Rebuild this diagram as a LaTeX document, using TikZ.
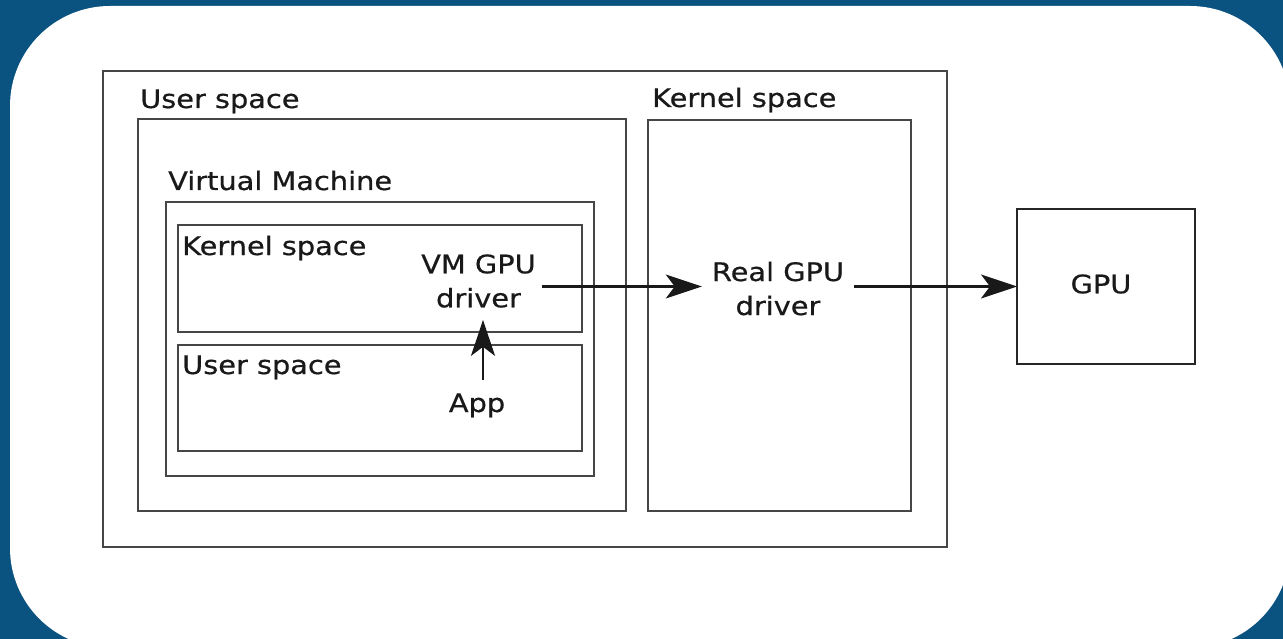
\documentclass[tikz,border=0pt]{standalone}
\usepackage{fontspec}
\setmainfont{DejaVu Sans}[FakeStretch=1.13,FakeBold=0.6]
\usetikzlibrary{arrows.meta}
\definecolor{bgblue}{RGB}{10,82,128}
\definecolor{linegray}{RGB}{70,70,70}
\definecolor{txt}{RGB}{25,25,25}
\begin{document}
\begin{tikzpicture}[x=1pt,y=-1pt,
  box/.style={draw=linegray, line width=2.4pt, inner sep=0pt, outer sep=0pt, minimum width=#1},
  lbl/.style={anchor=base west, inner sep=0pt, text=txt, font=\fontsize{25.5}{34}\selectfont},
  ctr/.style={text=txt, font=\fontsize{25.5}{34}\selectfont, align=center},
  arr/.style={draw=black!90, line width=2.2pt, -{Stealth[length=36pt,width=24pt,inset=9pt]}}]
\useasboundingbox (0,0) rectangle (1283,639);
\clip (0,0) rectangle (1283,639);
\fill[bgblue] (0,0) rectangle (1283,639);
\fill[white, rounded corners=100pt] (10,6) rectangle (1290,648);
% boxes
\node[box=844pt, minimum height=476pt] (outer) at (525,309) {};
\node[box=488pt, minimum height=392pt] (userbox) at (382,315) {};
\node[box=428pt, minimum height=274pt] (vmbox) at (380,339) {};
\node[box=404pt, minimum height=107pt] (kinner) at (380,278.5) {};
\node[box=404pt, minimum height=106pt] (uinner) at (380,398) {};
\node[box=263pt, minimum height=391pt] (kbox) at (779.5,315.5) {};
\node[box=178pt, minimum height=155pt, draw=black!85] (gpu) at (1106,286.5) {};
% labels
\node[lbl] (luser) at (140,108) {User space};
\node[lbl] (lvm) at (168,190) {Virtual Machine};
\node[lbl] (lkin) at (182,255) {Kernel space};
\node[lbl] (luin) at (182,374) {User space};
\node[lbl] (lkern) at (652,107) {Kernel space};
\node[ctr, inner xsep=6pt, inner ysep=12pt] (vmdrv) at (478.5,281) {VM GPU\\driver};
\node[ctr, inner xsep=10pt, inner ysep=4pt] (realdrv) at (778,288.5) {Real GPU\\driver};
\node[ctr, anchor=base, inner xsep=4pt, inner ysep=13pt] (app) at (477,412) {App};
\node[ctr, inner sep=0pt] (gputxt) at (1101,284) {GPU};
% arrows
\draw[arr] ([xshift=6pt]app.north) -- ([xshift=6pt]app.north |- vmdrv.south);
\draw[arr] (vmdrv.east |- gpu.west) -- (realdrv.west |- gpu.west);
\draw[arr] (realdrv.east |- gpu.west) -- (gpu.west);
\end{tikzpicture}
\end{document}
